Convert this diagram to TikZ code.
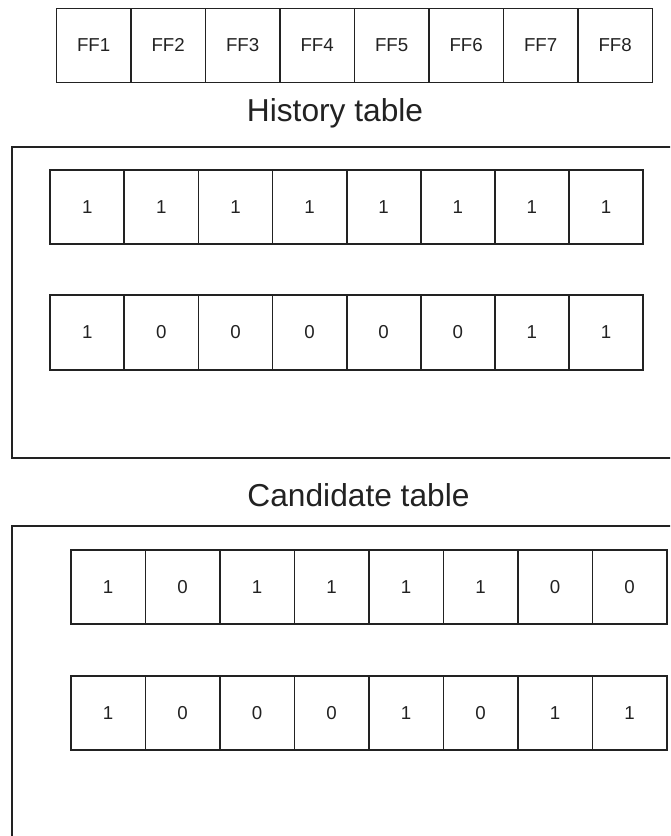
\documentclass[tikz,border=0pt]{standalone}
\usepackage{fontspec}
\setmainfont{Liberation Sans}
\definecolor{ink}{HTML}{222222}
\begin{document}
\begin{tikzpicture}[x=1pt,y=1pt,
  cellbox/.style={draw=ink, line width=1.8pt, anchor=north west, inner sep=0pt,
    minimum width=74.5pt, minimum height=74pt, text=ink,
    font=\fontsize{18.7}{20}\selectfont},
  titletext/.style={anchor=base, inner sep=0pt, text=ink, font=\fontsize{31.7}{34}\selectfont},
  outerbox/.style={draw=ink, line width=1.9pt}]
\useasboundingbox (0,0) rectangle (670,-836);
\clip (0,0) rectangle (670,-836);
% top register
\foreach \t [count=\i from 0] in {FF1,FF2,FF3,FF4,FF5,FF6,FF7,FF8}
  \node[cellbox] (ff\i) at ({55.5+74.5*\i},-7.5) {\t};
% history table
\node[titletext] (histtitle) at (335,-121.7) {History table};
\draw[outerbox] (12,-147.3) rectangle (720,-458);
\foreach \v [count=\i from 0] in {1,1,1,1,1,1,1,1}
  \node[cellbox, minimum width=74.1pt, minimum height=74.6pt] (ha\i) at ({49.3+74.1*\i},-168.7) {\v};
\foreach \v [count=\i from 0] in {1,0,0,0,0,0,1,1}
  \node[cellbox, minimum width=74.1pt, minimum height=74.6pt] (hb\i) at ({49.3+74.1*\i},-294.3) {\v};
% candidate table
\node[titletext] (candtitle) at (358.5,-506.7) {Candidate table};
\draw[outerbox] (12,-525.7) rectangle (720,-900);
\foreach \v [count=\i from 0] in {1,0,1,1,1,1,0,0}
  \node[cellbox] (ca\i) at ({70+74.5*\i},-549.3) {\v};
\foreach \v [count=\i from 0] in {1,0,0,0,1,0,1,1}
  \node[cellbox] (cb\i) at ({70+74.5*\i},-675.3) {\v};
\end{tikzpicture}
\end{document}
